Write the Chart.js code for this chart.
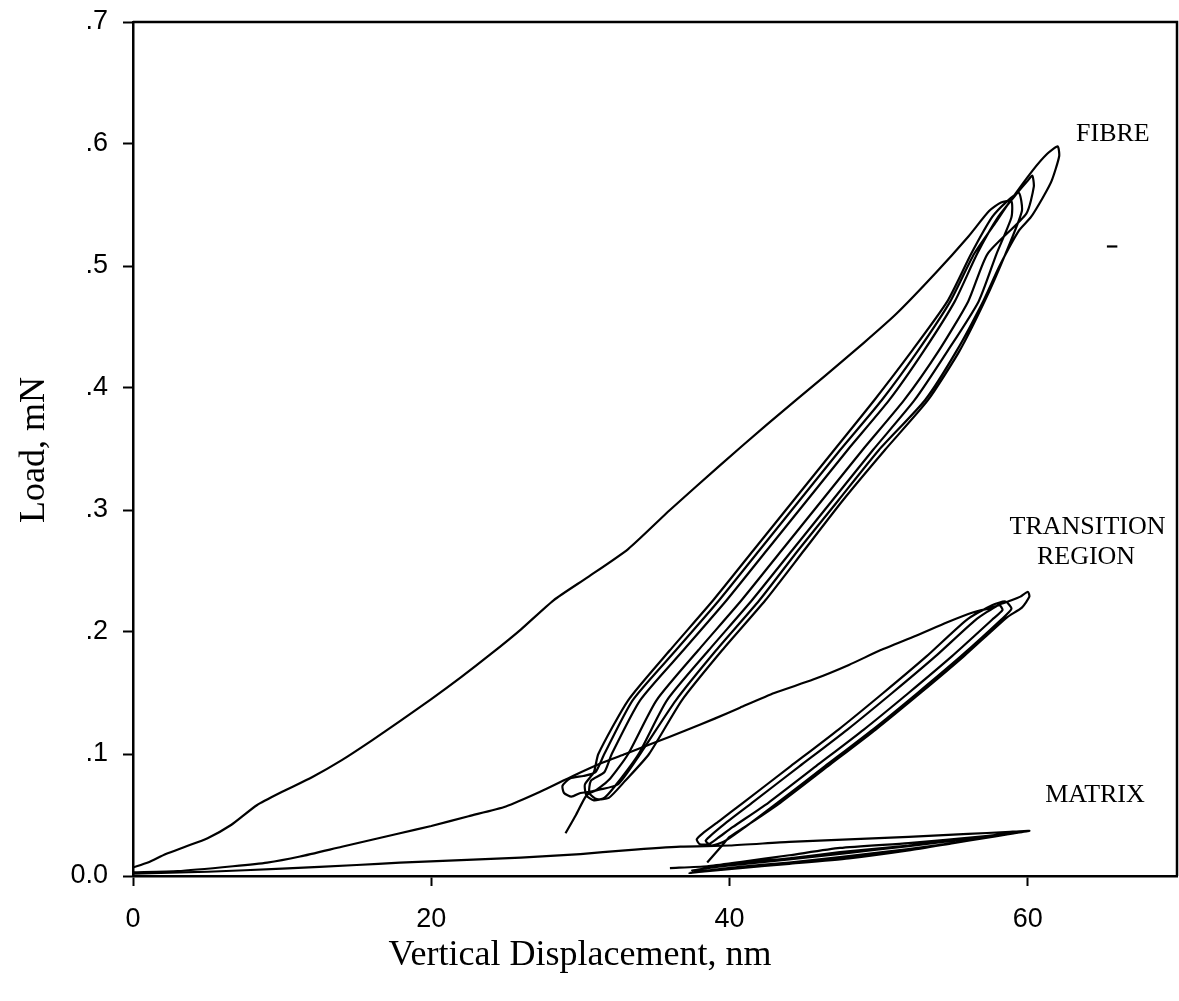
<!DOCTYPE html>
<html>
<head>
<meta charset="utf-8">
<script src="https://cdn.jsdelivr.net/npm/chart.js@4/dist/chart.umd.min.js"></script>
<style>
  html, body { margin: 0; padding: 0; background: #fff; }
</style>
</head>
<body>
<canvas id="loadChart" width="1179" height="1001"></canvas>
<script>
// Load vs vertical displacement, nanoindentation cycles
const fibreX = [
  0.0, 1.0, 2.2, 3.5, 5.0, 6.6, 8.3, 10.0, 12.0, 14.0, 16.0, 17.9, 20.0, 22.0, 24.0, 26.0, 28.2, 30.5, 33.2, 36.0, 39.3, 42.5, 46.4, 49.0, 51.2, 53.8, 56.0, 57.4, 58.2, 58.9,
  58.9, 57.9, 56.7, 54.6, 52.4, 49.6, 46.9, 44.2, 41.5, 38.6, 35.8, 33.9, 32.4, 31.6, 30.9, 30.4, 30.3, 30.9,
  31.2, 33.2, 36.0, 38.9, 41.6, 44.3, 47.0, 49.7, 52.2, 54.6, 56.2, 57.6, 58.6, 59.4,
  59.6, 58.5, 57.1, 55.4, 53.3, 50.4, 47.6, 45.0, 42.4, 39.5, 36.8, 34.6, 33.0, 31.9, 31.1, 30.6, 30.7,
  31.6, 32.1, 34.0, 36.9, 39.8, 42.5, 45.2, 47.9, 50.7, 53.0, 55.1, 56.6, 58.0, 59.3, 60.0, 60.3,
  60.4, 59.9, 57.3, 56.0, 54.0, 51.7, 48.9, 46.2, 43.5, 40.8, 37.9, 35.1, 33.2, 32.0, 31.0, 30.0, 29.4, 28.9, 28.8, 29.3, 30.2, 31.0,
  31.6, 33.5, 36.4, 39.3, 42.0, 44.7, 47.4, 50.2, 52.6, 54.8, 56.4, 57.8, 58.8, 60.3, 61.3, 62.0,
  62.1, 61.6, 61.0, 60.2, 59.4, 58.1, 57.0, 55.2, 53.1, 50.0, 47.3, 44.6, 42.0, 39.1, 36.4, 34.0, 32.5, 31.0, 30.4, 29.7, 29.0
];
const fibreY = [
  0.007, 0.011, 0.018, 0.024, 0.031, 0.042, 0.058, 0.069, 0.081, 0.095, 0.111, 0.127, 0.145, 0.163, 0.182, 0.202, 0.226, 0.245, 0.268, 0.300, 0.336, 0.370, 0.410, 0.437, 0.461, 0.494, 0.524, 0.545, 0.552, 0.553,
  0.540, 0.510, 0.471, 0.430, 0.390, 0.349, 0.308, 0.267, 0.226, 0.185, 0.144, 0.100, 0.075, 0.064, 0.062, 0.066, 0.075, 0.085,
  0.100, 0.144, 0.185, 0.226, 0.267, 0.308, 0.349, 0.390, 0.430, 0.471, 0.510, 0.540, 0.553, 0.560,
  0.545, 0.510, 0.471, 0.430, 0.390, 0.349, 0.308, 0.267, 0.226, 0.185, 0.144, 0.100, 0.078, 0.064, 0.063, 0.068, 0.078,
  0.085, 0.100, 0.144, 0.185, 0.226, 0.267, 0.308, 0.349, 0.390, 0.430, 0.471, 0.510, 0.540, 0.560, 0.570, 0.574,
  0.565, 0.543, 0.510, 0.471, 0.430, 0.390, 0.349, 0.308, 0.267, 0.226, 0.185, 0.144, 0.100, 0.080, 0.070, 0.068, 0.065, 0.068, 0.074, 0.080, 0.082, 0.085,
  0.100, 0.144, 0.185, 0.226, 0.267, 0.308, 0.349, 0.390, 0.430, 0.471, 0.510, 0.535, 0.553, 0.578, 0.592, 0.598,
  0.590, 0.570, 0.556, 0.540, 0.529, 0.500, 0.471, 0.430, 0.390, 0.349, 0.308, 0.267, 0.226, 0.185, 0.144, 0.100, 0.075, 0.070, 0.066, 0.050, 0.035
];

const transX = [
  0.0, 3.0, 6.7, 9.0, 11.2, 14.0, 17.9, 20.0, 22.5, 25.0, 27.3, 29.5, 31.5, 33.0, 34.9, 37.0, 39.0, 40.7, 43.0, 45.6, 48.0, 50.1, 52.5, 54.6, 56.3, 57.6, 58.1,
  58.3, 57.6, 54.9, 52.0, 49.0, 45.8, 42.6, 40.2, 39.2, 38.6, 38.0, 37.8, 38.2,
  39.3, 40.9, 44.1, 47.3, 50.3, 53.2, 55.9, 57.6, 58.5,
  58.9, 58.2, 55.5, 52.6, 49.6, 46.4, 43.2, 40.8, 39.6, 38.8, 38.4,
  39.9, 41.5, 44.7, 47.9, 50.9, 53.8, 56.5, 58.0, 58.9, 59.5, 60.0,
  60.1, 59.6, 58.6, 55.7, 52.8, 49.8, 46.6, 43.4, 41.0, 40.0, 39.5, 38.5
];
const transY = [
  0.003, 0.004, 0.008, 0.011, 0.016, 0.024, 0.035, 0.041, 0.049, 0.057, 0.069, 0.082, 0.093, 0.100, 0.109, 0.119, 0.129, 0.138, 0.150, 0.161, 0.173, 0.185, 0.197, 0.208, 0.216, 0.220, 0.222,
  0.218, 0.210, 0.180, 0.150, 0.120, 0.090, 0.060, 0.040, 0.031, 0.026, 0.026, 0.030, 0.035,
  0.045, 0.060, 0.090, 0.120, 0.150, 0.180, 0.210, 0.222, 0.225,
  0.219, 0.210, 0.180, 0.150, 0.120, 0.090, 0.060, 0.038, 0.028, 0.025, 0.029,
  0.045, 0.060, 0.090, 0.120, 0.150, 0.180, 0.210, 0.222, 0.226, 0.229, 0.233,
  0.229, 0.220, 0.212, 0.180, 0.150, 0.120, 0.090, 0.060, 0.040, 0.032, 0.025, 0.011
];

const matrixX = [
  0.0, 5.0, 10.0, 15.0, 17.9, 22.0, 26.0, 30.0, 33.0, 36.7, 40.0, 44.0, 48.0, 52.0, 56.0, 58.5, 60.1,
  58.0, 55.0, 52.0, 48.0, 44.0, 40.7, 38.5, 37.3,
  38.5, 40.7, 44.0, 47.4, 52.0, 56.0, 59.8,
  58.0, 55.0, 52.0, 48.0, 44.0, 40.7, 38.5, 37.5,
  40.7, 44.0, 47.4, 52.0, 56.0, 59.6,
  57.0, 52.0, 47.4, 44.0, 40.7, 38.5, 36.0
];
const matrixY = [
  0.002, 0.0035, 0.006, 0.009, 0.011, 0.013, 0.015, 0.018, 0.021, 0.024, 0.025, 0.028, 0.030, 0.032, 0.0345, 0.036, 0.037,
  0.033, 0.027, 0.021, 0.0145, 0.010, 0.0065, 0.004, 0.0025,
  0.0045, 0.0075, 0.011, 0.0155, 0.022, 0.029, 0.0365,
  0.033, 0.029, 0.0245, 0.019, 0.0135, 0.0095, 0.0065, 0.0045,
  0.0105, 0.0145, 0.0195, 0.025, 0.031, 0.036,
  0.0325, 0.027, 0.023, 0.017, 0.0115, 0.008, 0.0065
];

// stray mark to the right of the fibre loops
const strayX = [65.3, 66.0];
const strayY = [0.516, 0.516];

const xTickValues = [0, 20, 40, 60];
const xTickLabels = ['0', '20', '40', '60'];
const yTickValues = [0, 0.1, 0.2, 0.3, 0.4, 0.5, 0.6, 0.7];
const yTickLabels = ['0.0', '.1', '.2', '.3', '.4', '.5', '.6', '.7'];

function toPoints(xs, ys) {
  return xs.map((x, i) => ({ x: x, y: ys[i] }));
}

function curve(xs, ys) {
  return {
    data: toPoints(xs, ys),
    showLine: true,
    borderColor: '#000',
    borderWidth: 2.2,
    pointRadius: 0,
    tension: 0.2,
    fill: false
  };
}

const annotate = {
  id: 'annotate',
  afterDraw(chart) {
    const { ctx, chartArea: a, scales: { x, y } } = chart;
    ctx.save();
    // top and right frame
    ctx.strokeStyle = '#000';
    ctx.lineWidth = 2.5;
    ctx.beginPath();
    ctx.moveTo(a.left, a.top);
    ctx.lineTo(a.right, a.top);
    ctx.lineTo(a.right, a.bottom);
    ctx.stroke();

    ctx.fillStyle = '#000';
    ctx.textAlign = 'center';
    ctx.textBaseline = 'middle';
    ctx.font = '26px "Liberation Serif"';
    ctx.fillText('FIBRE', x.getPixelForValue(65.7), y.getPixelForValue(0.608));
    ctx.fillText('TRANSITION', x.getPixelForValue(64.0), y.getPixelForValue(0.286));
    ctx.fillText('REGION', x.getPixelForValue(63.9), y.getPixelForValue(0.261));
    ctx.fillText('MATRIX', x.getPixelForValue(64.5), y.getPixelForValue(0.066));

    // axis titles
    ctx.font = '36px "Liberation Serif"';
    ctx.fillText('Vertical Displacement, nm', 580, 956);
    ctx.translate(35, 450);
    ctx.rotate(-Math.PI / 2);
    ctx.fillText('Load, mN', 0, 0);
    ctx.restore();
  }
};

new Chart(document.getElementById('loadChart'), {
  type: 'scatter',
  data: {
    datasets: [
      curve(fibreX, fibreY),
      curve(transX, transY),
      curve(matrixX, matrixY),
      curve(strayX, strayY)
    ]
  },
  options: {
    responsive: false,
    animation: false,
    devicePixelRatio: 1,
    layout: { padding: { top: 22, right: 2, left: 0, bottom: 0 } },
    plugins: {
      legend: { display: false },
      tooltip: { enabled: false }
    },
    scales: {
      x: {
        type: 'linear',
        min: 0,
        max: 70,
        afterBuildTicks: s => { s.ticks = xTickValues.map(v => ({ value: v })); },
        afterFit: s => { s.height = 125; s.paddingLeft = 0; s.paddingRight = 0; },
        ticks: {
          color: '#000',
          font: { family: '"Liberation Sans"', size: 27 },
          padding: 17,
          maxRotation: 0,
          autoSkip: false,
          callback: (v) => xTickLabels[xTickValues.indexOf(v)]
        },
        grid: { drawOnChartArea: false, drawTicks: true, tickLength: 10, tickWidth: 2, tickColor: '#000' },
        border: { display: true, color: '#000', width: 2.5 }
      },
      y: {
        type: 'linear',
        min: 0,
        max: 0.7,
        afterBuildTicks: s => { s.ticks = yTickValues.map(v => ({ value: v })); },
        afterFit: s => { s.width = 133; s.paddingTop = 0; s.paddingBottom = 0; },
        ticks: {
          color: '#000',
          font: { family: '"Liberation Sans"', size: 27 },
          padding: 15,
          autoSkip: false,
          callback: (v) => yTickLabels[yTickValues.indexOf(v)]
        },
        grid: { drawOnChartArea: false, drawTicks: true, tickLength: 10, tickWidth: 2, tickColor: '#000' },
        border: { display: true, color: '#000', width: 2.5 }
      }
    }
  },
  plugins: [annotate]
});
</script>
</body>
</html>
